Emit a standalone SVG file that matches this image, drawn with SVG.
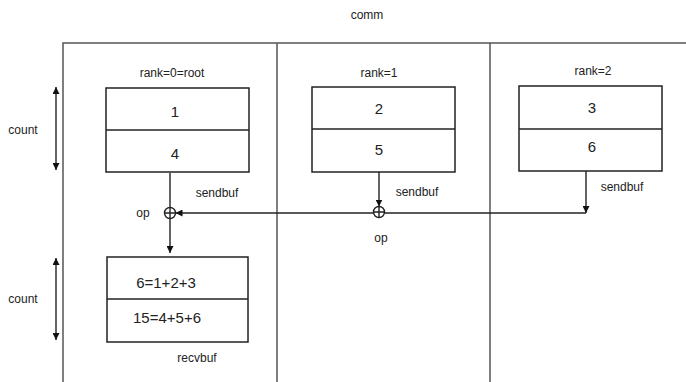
<svg xmlns="http://www.w3.org/2000/svg" width="686" height="382" viewBox="0 0 686 382">
<style>
text{font-family:"Liberation Sans",Arial,sans-serif;fill:#222;text-anchor:middle}
.lbl{font-size:12px}
.num{font-size:15px}
.frame{stroke:#555;stroke-width:1.5;fill:none}
.box{stroke:#222;stroke-width:1.5;fill:#fff}
.ln{stroke:#222;stroke-width:1.4;fill:none}
</style>
<defs>
<marker id="ah" viewBox="0 0 10 10" refX="10" refY="5" markerWidth="7" markerHeight="7" markerUnits="userSpaceOnUse" orient="auto-start-reverse">
<path d="M0,0 L10,5 L0,10 z" fill="#111"/>
</marker>
</defs>
<rect width="686" height="382" fill="#fff"/>
<g id="frame">
<text class="lbl" x="367" y="19">comm</text>
<path class="frame" d="M63,382 V43 H686 M277,43 V382 M490,43 V382"/>
</g>
<g id="rank0">
<text class="lbl" x="172" y="77">rank=0=root</text>
<rect class="box" x="106" y="88" width="143" height="84"/>
<line class="ln" x1="106" y1="130" x2="249" y2="130"/>
<text class="num" x="175" y="117">1</text>
<text class="num" x="175" y="159">4</text>
</g>
<g id="rank1">
<text class="lbl" x="379" y="77">rank=1</text>
<rect class="box" x="312" y="87" width="143" height="85"/>
<line class="ln" x1="312" y1="129" x2="455" y2="129"/>
<text class="num" x="379" y="114">2</text>
<text class="num" x="379" y="155">5</text>
</g>
<g id="rank2">
<text class="lbl" x="593" y="75">rank=2</text>
<rect class="box" x="519" y="86" width="143" height="85"/>
<line class="ln" x1="519" y1="129" x2="662" y2="129"/>
<text class="num" x="592" y="113">3</text>
<text class="num" x="592" y="152">6</text>
</g>
<g id="recv">
<rect class="box" x="107" y="257" width="141" height="85"/>
<line class="ln" x1="107" y1="299" x2="248" y2="299"/>
<text class="num" x="166" y="288">6=1+2+3</text>
<text class="num" x="167" y="323">15=4+5+6</text>
<text class="lbl" x="197" y="362">recvbuf</text>
</g>
<g id="op0">
<circle class="ln" cx="170" cy="213" r="5.5"/>
<path class="ln" d="M164.5,213 H175.5 M170,207.5 V218.5"/>
<text class="lbl" x="143" y="217">op</text>
</g>
<g id="op1">
<circle class="ln" cx="379" cy="212" r="5.5"/>
<path class="ln" d="M373.5,212 H384.5 M379,206.5 V217.5"/>
<text class="lbl" x="381" y="242">op</text>
</g>
<g id="counts">
<line class="ln" x1="56" y1="87" x2="56" y2="170" marker-start="url(#ah)" marker-end="url(#ah)"/>
<text class="lbl" x="23" y="134">count</text>
<line class="ln" x1="56" y1="258" x2="56" y2="340" marker-start="url(#ah)" marker-end="url(#ah)"/>
<text class="lbl" x="23" y="303">count</text>
</g>
<g id="connectors">
<line class="ln" x1="170" y1="173" x2="170" y2="207.5"/>
<text class="lbl" x="217" y="197">sendbuf</text>
<line class="ln" x1="170" y1="218.5" x2="170" y2="253" marker-end="url(#ah)"/>
<line class="ln" x1="379" y1="172" x2="379" y2="206.5" marker-end="url(#ah)"/>
<text class="lbl" x="417" y="196">sendbuf</text>
<line class="ln" x1="586" y1="171" x2="586" y2="213" marker-end="url(#ah)"/>
<text class="lbl" x="622" y="191">sendbuf</text>
<line class="ln" x1="586" y1="213" x2="384.5" y2="213"/>
<line class="ln" x1="373.5" y1="213" x2="175.5" y2="213" marker-end="url(#ah)"/>
</g>
</svg>
